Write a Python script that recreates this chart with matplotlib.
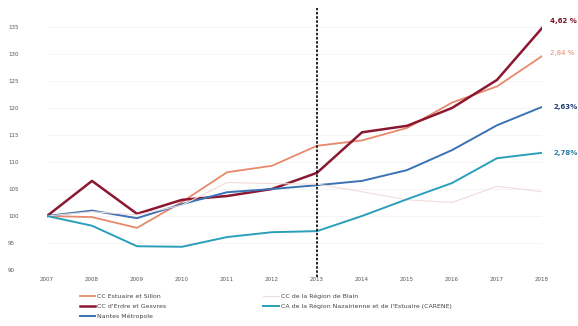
import matplotlib
matplotlib.use("Agg")
import matplotlib.pyplot as plt

years = list(range(2007, 2019))

estuaire_sillon = [100, 99.8, 97.8, 102.6, 108.1, 109.3, 113.0, 114.0, 116.3, 121.0, 124.0, 129.6]
erdre_gesvres = [100, 106.5, 100.4, 103.0, 103.7, 105.0, 108.0, 115.5, 116.7, 120.0, 125.2, 134.8]
nantes_metropole = [100, 101.0, 99.6, 102.2, 104.4, 105.0, 105.7, 106.5, 108.5, 112.2, 116.8, 120.2]
region_blain = [100, 100.8, 100.2, 102.0, 106.2, 106.0, 105.9, 104.5, 103.0, 102.5, 105.5, 104.5]
carene = [100, 98.2, 94.4, 94.3, 96.1, 97.0, 97.2, 100.0, 103.1, 106.1, 110.7, 111.7]

labels = ["CC Estuaire et Sillon", "CC d'Erdre et Gesvres", "Nantes Métropole",
          "CC de la Région de Blain", "CA de la Région Nazairienne et de l'Estuaire (CARENE)"]
end_labels = ["4,62 %", "2,84 %", "2,63%", "2,78%"]

fig = plt.figure(figsize=(5.78, 3.26), dpi=100)
ax = fig.add_axes([47 / 578, (326 - 270) / 326, (542 - 47) / 578, 46 * 5.4 / 326])

l1, = ax.plot(years, estuaire_sillon, color="#e8896c", lw=1.3)
l2, = ax.plot(years, erdre_gesvres, color="#8c1730", lw=1.8)
l3, = ax.plot(years, nantes_metropole, color="#3a72b4", lw=1.4)
l4, = ax.plot(years, region_blain, color="#f0dcd8", lw=0.8)
l5, = ax.plot(years, carene, color="#2b9fba", lw=1.4)

# reference year marker
ax.axvline(2013, ymin=-0.03, ymax=1.055, color="black", ls=(0, (1.5, 1)), lw=1.2, clip_on=False)

ax.set_xlim(2007, 2018)
ax.set_ylim(90, 136)
ax.set_yticks(range(90, 136, 5))
ax.set_xticks(years)
ax.tick_params(length=0, labelsize=4, labelcolor="#555555")
ax.tick_params(axis="y", pad=28)
ax.tick_params(axis="x", pad=5)
for lab in ax.get_yticklabels():
    lab.set_horizontalalignment("left")
ax.grid(axis="y", color="#f4f4f4", lw=0.6)
for s in ax.spines.values():
    s.set_visible(False)

ax.annotate(end_labels[0], (2018, erdre_gesvres[-1]), xytext=(6, 5), textcoords="offset points",
            fontsize=5, color="#7a1028", fontweight="bold", va="center", annotation_clip=False)
ax.annotate(end_labels[1], (2018, estuaire_sillon[-1]), xytext=(6, 2), textcoords="offset points",
            fontsize=5, color="#e8896c", va="center", annotation_clip=False)
ax.annotate(end_labels[2], (2018, nantes_metropole[-1]), xytext=(8, 0), textcoords="offset points",
            fontsize=5, color="#1f3f70", fontweight="bold", va="center", annotation_clip=False)
ax.annotate(end_labels[3], (2018, carene[-1]), xytext=(8, 0), textcoords="offset points",
            fontsize=5, color="#2a7fa8", fontweight="bold", va="center", annotation_clip=False)

fig.legend([l1, l2, l3, l4, l5], labels, ncol=2, frameon=False, fontsize=4.5,
           loc="upper left", bbox_to_anchor=(74 / 578, 1 - 288 / 326),
           handlelength=2.5, handletextpad=0.3, columnspacing=15.5, labelspacing=0.7,
           labelcolor="#444444")

fig.savefig("out.png", dpi=100)
